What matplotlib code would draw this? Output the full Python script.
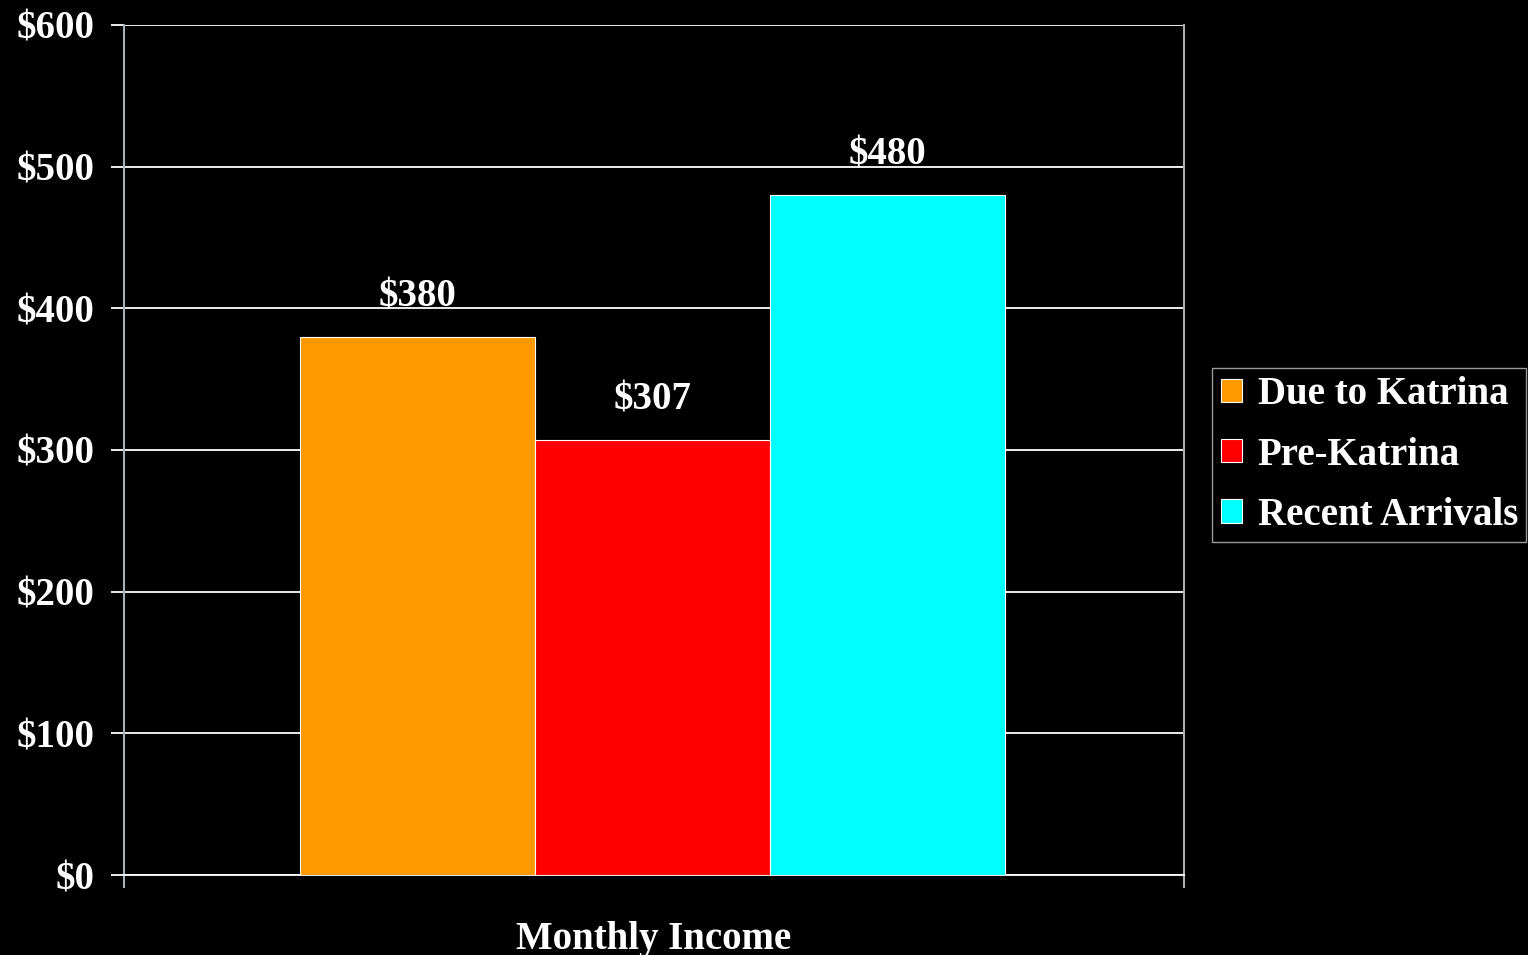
import matplotlib.pyplot as plt
from matplotlib.ticker import FuncFormatter

# Chart data
category = "Monthly Income"
series = ["Due to Katrina", "Pre-Katrina", "Recent Arrivals"]
values = [380, 307, 480]
colors = ["#ff9900", "#ff0000", "#00ffff"]

plt.rcParams['font.family'] = ['Liberation Serif', 'DejaVu Serif']
plt.rcParams['font.weight'] = 'bold'

fig = plt.figure(figsize=(15.28, 9.55), dpi=100, facecolor='black')
ax = fig.add_axes([124 / 1528, 80 / 955, 1060 / 1528, 850 / 955])
ax.set_facecolor('black')

width = 235 / 1060
shift = -1.5 / 1060
offsets = [shift - width, shift, shift + width]
for off, val, col, name in zip(offsets, values, colors, series):
    ax.bar(off, val, width=width, color=col, edgecolor='white',
           linewidth=0.8, label=name, zorder=3)
    ax.text(off, val + 15, f"${val}", ha='center', va='bottom',
            color='white', fontsize=28, fontweight='bold')

ax.set_xlim(-0.5, 0.5)
ax.set_ylim(0, 600)
ax.set_yticks(range(0, 601, 100))
ax.yaxis.set_major_formatter(FuncFormatter(lambda v, p: f"${int(v)}"))
ax.grid(axis='y', color='white', linewidth=1.3, zorder=0)

# category boundaries as ticks, category name as a minor tick label
ax.set_xticks([-0.5, 0.5])
ax.set_xticklabels(["", ""])
ax.set_xticks([0], minor=True)
ax.set_xticklabels([category], minor=True)
ax.tick_params(axis='x', which='major', direction='out', length=9,
               color='#a8b0b4', width=1.5)
ax.tick_params(axis='x', which='minor', length=0, pad=33,
               labelcolor='white', labelsize=28)
ax.tick_params(axis='y', direction='out', length=9.5, color='white',
               width=1.3, pad=12, labelcolor='white', labelsize=28)

for lbl in ax.get_yticklabels() + ax.get_xticklabels(minor=True):
    lbl.set_fontweight('bold')

ax.spines['top'].set_visible(False)
ax.spines['left'].set_color('#a8b0b4')
ax.spines['right'].set_color('#a8b0b4')
ax.spines['left'].set_linewidth(1.5)
ax.spines['right'].set_linewidth(1.5)
ax.spines['bottom'].set_color('white')
ax.spines['bottom'].set_linewidth(1.3)

leg = fig.legend(loc='center left', bbox_to_anchor=(1212 / 1528, 1 - 455 / 955),
                 frameon=True, fancybox=False, facecolor='black',
                 edgecolor='#c0c0c0', prop={'size': 28, 'weight': 'bold'},
                 handlelength=0.55, handleheight=0.55, handletextpad=0.4,
                 labelspacing=0.6, borderpad=0.22, borderaxespad=0)
for t in leg.get_texts():
    t.set_color('white')

fig.savefig('out.png', dpi=100, facecolor='black')
